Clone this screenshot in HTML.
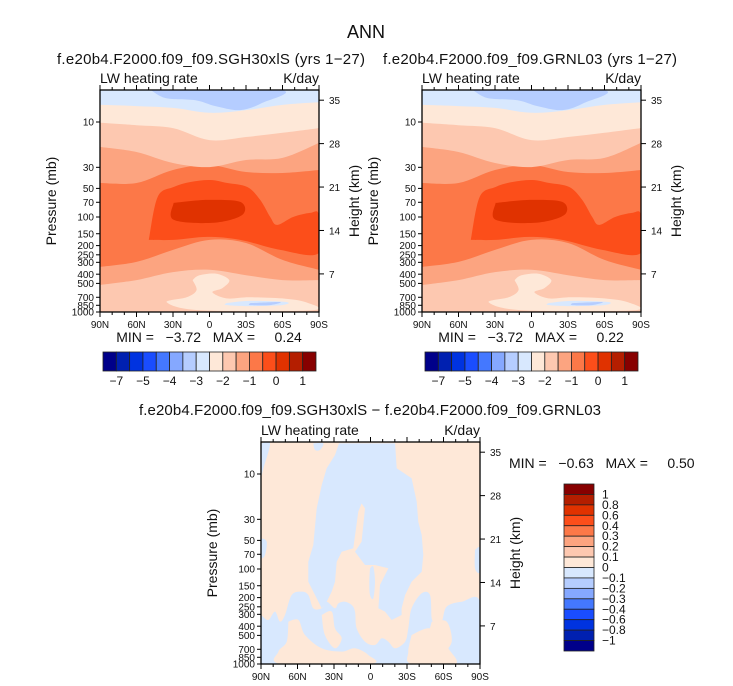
<!DOCTYPE html>
<html><head><meta charset="utf-8"><style>
html,body{margin:0;padding:0;background:#fff}
svg{display:block}
text{font-family:"Liberation Sans",sans-serif;fill:#111}
.pre{white-space:pre}
</style></head><body>
<svg id="fig" width="733" height="686" viewBox="0 0 733 686" xmlns="http://www.w3.org/2000/svg">
<text x="366" y="38" text-anchor="middle" font-size="18">ANN</text>
<g id="root"></g>
</svg>
<script>
// ---------- data ----------
const colors = ['#00008a','#0020b0','#0033e0','#1a4dff','#4478ff','#85a8ff','#b5cdff','#d8e8fe','#fee8d8','#fdc8b0','#fca480','#fc7848','#fc4e1a','#e03200','#b41e00','#870000'];
const cbLabelsTop = ['−7','−5','−4','−3','−2','−1','0','1'];
const cbLabelsDiff = ['1','0.8','0.6','0.4','0.3','0.2','0.1','0','−0.1','−0.2','−0.3','−0.4','−0.6','−0.8','−1'];
const pressTicks = [10,30,50,70,100,150,200,250,300,400,500,700,850,1000];
const heightTicks = [7,14,21,28,35];
const latTicks = [90,60,30,0,-30,-60,-90];
const latLabels = ['90N','60N','30N','0','30S','60S','90S'];
const bandLats = [90,60,30,0,-30,-60,-90];
// band boundaries (pressure, mb) at bandLats ; region above boundary gets color
const bLightBlue = [6.6,6.8,7.1,8.0,7.5,6.6,6.2];
const bPalePeach = [10.2,10.8,11.6,15.5,14.4,13.0,11.6];
const bPeach = [18.3,20.7,27,29.8,25.1,23.9,16.6];
const bLightSalmon = [43.9,43.9,32,28.4,33.6,34.4,32];
const bSalmon = [335,297,222,174,188,283,360];
const bLightSalmon2 = [520,461,380,360,410,461,461];
// blobs [lat, p]
const blobMidBlue = [[48.3,4.6],[36,5.6],[11.5,5.9],[-4.9,6.8],[-25.3,7.5],[-43.3,6.3],[-58,4.6]];
const blobOrange = [[49.9,174],[42.6,61.5],[29.5,48.3],[15.6,42.8],[-0.8,40.8],[-14.7,43.9],[-31.1,48.3],[-41.7,66.1],[-49.9,100],[-55.6,121],[-68.7,100],[-82.6,90.6],[-90,95.1],[-90,239],[-58.1,222],[-25.3,174],[1.7,162],[29.5,174]];
const blobRed = [[29.5,71.1],[1.7,66.1],[-25.3,69.4],[-27,95.1],[-3.3,115],[29.5,107]];
const blobPaleLow = [[13.9,461],[8.2,410],[-5.7,395],[-16.3,461],[-10.6,560],[-2.4,620],[-13.9,720],[-32.7,700],[-59.7,720],[-79.3,790],[-84.2,960],[7.4,960],[35.2,790],[18.8,700],[10.7,590]];
const blobBlueStreak = [[-13.9,805],[-33.5,765],[-63,785],[-59.7,845],[-33.5,866],[-13.9,845]];
const blobBlueStreak2 = [[-33.5,805],[-58,785],[-49.9,845],[-33.5,845]];
// difference panel: negative (blue) regions and positive intrusions
const diffCol = [[25.9,4.76],[-20.2,4.76],[-21.5,8.72],[-33.8,11.1],[-38,19.5],[-39.3,31.8],[-42.1,43.9],[-43.4,71.3],[-42.1,107],[-33.8,136],[-28.4,188],[-25.6,259],[-25.6,305],[-17.4,344],[-11.9,281],[-6.5,259],[-7.8,147],[-14.7,98.4],[-3.7,90.8],[4.5,90.8],[12.7,65.7],[7.3,51.5],[4.5,23],[7.3,20.4],[10,24.9],[14.1,60.6],[23.7,65.7],[27.8,83.7],[29.2,136],[31.9,173],[36,221],[40.1,259],[47,173],[51.1,136],[51.1,83.7],[47,55.9],[44.2,23],[40.1,13.1],[36,8.72],[29.2,6.31]];
const diffSlit = [[0.4,98.4],[-2.3,94.5],[-3.7,136],[-2.3,204],[0.4,188],[1,136]];
const diffTopLeft = [[90,4.76],[82.6,4.76],[88,8.72],[90,10.2]];
const diffTopSmall = [[47,4.76],[38.8,4.76],[41.5,5.58],[45.6,5.58]];
const diffRight = [[-85.9,63.1],[-90,60.6],[-90,107],[-85.9,98.4]];
const diffLeft = [[90,47.5],[85.3,51.5],[86.7,71.3],[90,74.2]];
const diffLow = [[90,305],[84,344],[78.5,281],[74.4,358],[70.3,305],[64.8,188],[56.6,173],[51.1,188],[47,259],[40.1,259],[36,221],[29.2,259],[26.4,230],[21,221],[15.5,239],[12.7,281],[11.4,421],[4.5,582],[-3.7,631],[-9.2,537],[-14.7,582],[-20.2,684],[-28.4,582],[-31.1,421],[-33.8,259],[-42.1,180],[-48.9,188],[-50.3,330],[-53,358],[-58.5,358],[-62.6,249],[-75,221],[-90,221],[-90,1000],[90,1000]];
const diffPosA = [[67.5,358],[59.3,344],[53.8,495],[40.1,684],[23.7,741],[12.7,684],[1.8,804],[0.4,1000],[73,1000],[75.7,741],[68.9,582]];
const diffPosB = [[-33.8,495],[-47.5,421],[-58.5,495],[-64,684],[-69.5,1000],[-33.8,1000],[-31.1,741]];
const diffPosC = [[40.1,305],[31.9,281],[29.2,421],[23.7,537],[29.2,684],[37.5,495]];
const diffPosD = [[-50.3,358],[-62.6,358],[-66.7,582],[-58.5,741],[-47.5,582]];

// ---------- drawing ----------
const NS='http://www.w3.org/2000/svg';
const root=document.getElementById('root');
function mk(tag,attrs,parent){const e=document.createElementNS(NS,tag);for(const k in attrs)e.setAttribute(k,attrs[k]);(parent||root).appendChild(e);return e;}
function txt(x,y,s,size,anchor,parent){const t=mk('text',{x:x,y:y,'font-size':size,'text-anchor':anchor||'start'},parent);t.textContent=s;return t;}

function makeAxes(ox,oy){
  const W=219,H=222;
  return {W:W,H:H,ox:ox,oy:oy,
    x:lat=>ox+(90-lat)*W/180,
    y:p=>oy+32+95*Math.log10(p/10),
    top:oy,bottom:oy+H};
}
function smoothPath(pts){
  let d='M'+pts[0][0].toFixed(1)+','+pts[0][1].toFixed(1);
  for(let i=0;i<pts.length-1;i++){
    const p0=pts[Math.max(i-1,0)],p1=pts[i],p2=pts[i+1],p3=pts[Math.min(i+2,pts.length-1)];
    const c1=[p1[0]+(p2[0]-p0[0])/6,p1[1]+(p2[1]-p0[1])/6];
    const c2=[p2[0]-(p3[0]-p1[0])/6,p2[1]-(p3[1]-p1[1])/6];
    d+=' C'+c1.map(v=>v.toFixed(1))+' '+c2.map(v=>v.toFixed(1))+' '+p2.map(v=>v.toFixed(1));
  }
  return d;
}
function bandAbove(ax,vals,color,g,name){
  const pts=bandLats.map((l,i)=>[ax.x(l),ax.y(vals[i])]);
  const d=smoothPath(pts)+' L'+ax.x(-90)+','+(ax.top-5)+' L'+ax.x(90)+','+(ax.top-5)+' Z';
  const e=mk('path',{d:d,fill:color},g);
  
  
}
function blob(ax,arr,color,g,name,smooth){
  const pts=arr.map(a=>[ax.x(a[0]),ax.y(a[1])]);
  let d;
  if(smooth){const c=pts.concat([pts[0]]);d=smoothPath(c)+' Z';}
  else d='M'+pts.map(p=>p[0].toFixed(1)+','+p[1].toFixed(1)).join(' L')+' Z';
  const e=mk('path',{d:d,fill:color},g);
  
  
}
let clipId=0;
function frame(ax,g){
  const gx=mk('g',{},g);
  
  
  mk('rect',{x:ax.ox,y:ax.top,width:ax.W,height:ax.H,fill:'none',stroke:'#000','stroke-width':1.3},gx);
  for(let l=90;l>=-90;l-=10){
    const major=(l%30===0);const X=ax.x(l);const len=major?5:3;
    mk('line',{x1:X,x2:X,y1:ax.bottom,y2:ax.bottom+len,stroke:'#000','stroke-width':1},gx);
    mk('line',{x1:X,x2:X,y1:ax.top,y2:ax.top-len,stroke:'#000','stroke-width':1},gx);
  }
  latTicks.forEach((l,i)=>{const t=txt(ax.x(l),ax.bottom+16,latLabels[i],10,'middle',gx);
    });
  pressTicks.forEach(p=>{const Y=ax.y(p);
    mk('line',{x1:ax.ox-4,x2:ax.ox,y1:Y,y2:Y,stroke:'#000','stroke-width':1},gx);
    const t=txt(ax.ox-6,Y+3.6,String(p),10,'end',gx);
    });
  heightTicks.forEach(z=>{const p=1138*Math.exp(-z/6.65);const Y=ax.y(p);
    mk('line',{x1:ax.ox+ax.W,x2:ax.ox+ax.W+5,y1:Y,y2:Y,stroke:'#000','stroke-width':1},gx);
    const t=txt(ax.ox+ax.W+10,Y+4,String(z),10,'start',gx);
    });
  const yl=txt(0,0,'Pressure (mb)',14,'middle',gx);
  yl.setAttribute('transform','translate('+(ax.ox-44)+','+(ax.top+111)+') rotate(-90)');
  
  const yr=txt(0,0,'Height (km)',14,'middle',gx);
  yr.setAttribute('transform','translate('+(ax.ox+ax.W+40)+','+(ax.top+111)+') rotate(-90)');
  
  const l1=txt(ax.ox,ax.top-7,'LW heating rate',14,'start',gx);
  
  const l2=txt(ax.ox+ax.W,ax.top-7,'K/day',14,'end',gx);
  
}
function clipFor(ax,g){
  const id='clip'+(clipId++);
  const cp=mk('clipPath',{id:id},g);
  mk('rect',{x:ax.ox,y:ax.top,width:ax.W,height:ax.H},cp);
  const cg=mk('g',{'clip-path':'url(#'+id+')'},g);
  
  
  return cg;
}
function topPanel(ox,oy,name){
  const g=mk('g',{});
  
  
  const ax=makeAxes(ox,oy);
  const cg=clipFor(ax,g);
  const bg=mk('rect',{x:ax.ox,y:ax.top,width:ax.W,height:ax.H,fill:colors[9]},cg);
  
  
  bandAbove(ax,bLightSalmon2,colors[10],cg,'band-light-salmon-low');
  bandAbove(ax,bSalmon,colors[11],cg,'band-salmon');
  bandAbove(ax,bLightSalmon,colors[10],cg,'band-light-salmon');
  bandAbove(ax,bPeach,colors[9],cg,'band-peach');
  bandAbove(ax,bPalePeach,colors[8],cg,'band-pale-peach');
  bandAbove(ax,bLightBlue,colors[7],cg,'band-light-blue');
  blob(ax,blobMidBlue,colors[6],cg,'blob-mid-blue',true);
  blob(ax,blobOrange,colors[12],cg,'blob-orange-red',true);
  blob(ax,blobRed,colors[13],cg,'blob-red-core',true);
  blob(ax,blobPaleLow,colors[8],cg,'blob-pale-low',true);
  blob(ax,blobBlueStreak,colors[7],cg,'blob-blue-streak',true);
  blob(ax,blobBlueStreak2,colors[6],cg,'blob-blue-streak-core',true);
  frame(ax,g);
  return ax;
}
function hColorbar(x0,y0,w,h,labels){
  const g=mk('g',{});
  
  
  const bw=w/colors.length;
  colors.forEach((c,i)=>{const r=mk('rect',{x:x0+i*bw,y:y0,width:bw,height:h,fill:c,stroke:'#222','stroke-width':0.8},g);
    });
  labels.forEach((s,i)=>{const t=txt(x0+(2*i+1)*bw,y0+h+14,s,12,'middle',g);
    });
}
function vColorbar(x0,y0,w,h,labels){
  const g=mk('g',{});
  
  
  const bh=h/colors.length;
  colors.slice().reverse().forEach((c,i)=>{const r=mk('rect',{x:x0,y:y0+i*bh,width:w,height:bh,fill:c,stroke:'#222','stroke-width':0.8},g);
    });
  labels.forEach((s,i)=>{const t=txt(x0+w+8,y0+(i+1)*bh+4,s,12,'start',g);
    });
}

// top panels
topPanel(100,90,'panel-sgh30xls');
topPanel(422,90,'panel-grnl03');
let t;
t=txt(211,64,'f.e20b4.F2000.f09_f09.SGH30xlS (yrs 1−27)',15,'middle');
t.setAttribute('textLength','308');


t=txt(530,64,'f.e20b4.F2000.f09_f09.GRNL03 (yrs 1−27)',15,'middle');
t.setAttribute('textLength','294');


t=txt(209,342,'MIN =   −3.72   MAX =     0.24',14,'middle');
t.setAttribute('class','pre');


t=txt(531,342,'MIN =   −3.72   MAX =     0.22',14,'middle');
t.setAttribute('class','pre');


hColorbar(103,352,213,19,cbLabelsTop);
hColorbar(425,352,213,19,cbLabelsTop);

// difference panel
(function(){
  const g=mk('g',{});
  
  
  const ax=makeAxes(261,442);
  const cg=clipFor(ax,g);
  const bg=mk('rect',{x:ax.ox,y:ax.top,width:ax.W,height:ax.H,fill:colors[8]},cg);
  
  
  blob(ax,diffLow,colors[7],cg,'negative-region-low',true);
  blob(ax,diffPosA,colors[8],cg,'positive-intrusion-a',true);
  blob(ax,diffPosB,colors[8],cg,'positive-intrusion-b',true);
  blob(ax,diffPosC,colors[8],cg,'positive-intrusion-c',true);
  blob(ax,diffPosD,colors[8],cg,'positive-intrusion-d',true);
  blob(ax,diffCol,colors[7],cg,'negative-region-column',false);
  blob(ax,diffSlit,colors[7],cg,'negative-slit',true);
  blob(ax,diffTopLeft,colors[7],cg,'negative-top-left',true);
  blob(ax,diffTopSmall,colors[7],cg,'negative-top-small',true);
  blob(ax,diffRight,colors[7],cg,'negative-right',true);
  blob(ax,diffLeft,colors[7],cg,'negative-left',true);
  frame(ax,g);
})();
t=txt(370,415,'f.e20b4.F2000.f09_f09.SGH30xlS − f.e20b4.F2000.f09_f09.GRNL03',15,'middle');
t.setAttribute('textLength','462');


t=txt(509,468,'MIN =   −0.63   MAX =     0.50',14,'start');
t.setAttribute('class','pre');


vColorbar(564,484,30,167,cbLabelsDiff);
</script>
</body></html>
